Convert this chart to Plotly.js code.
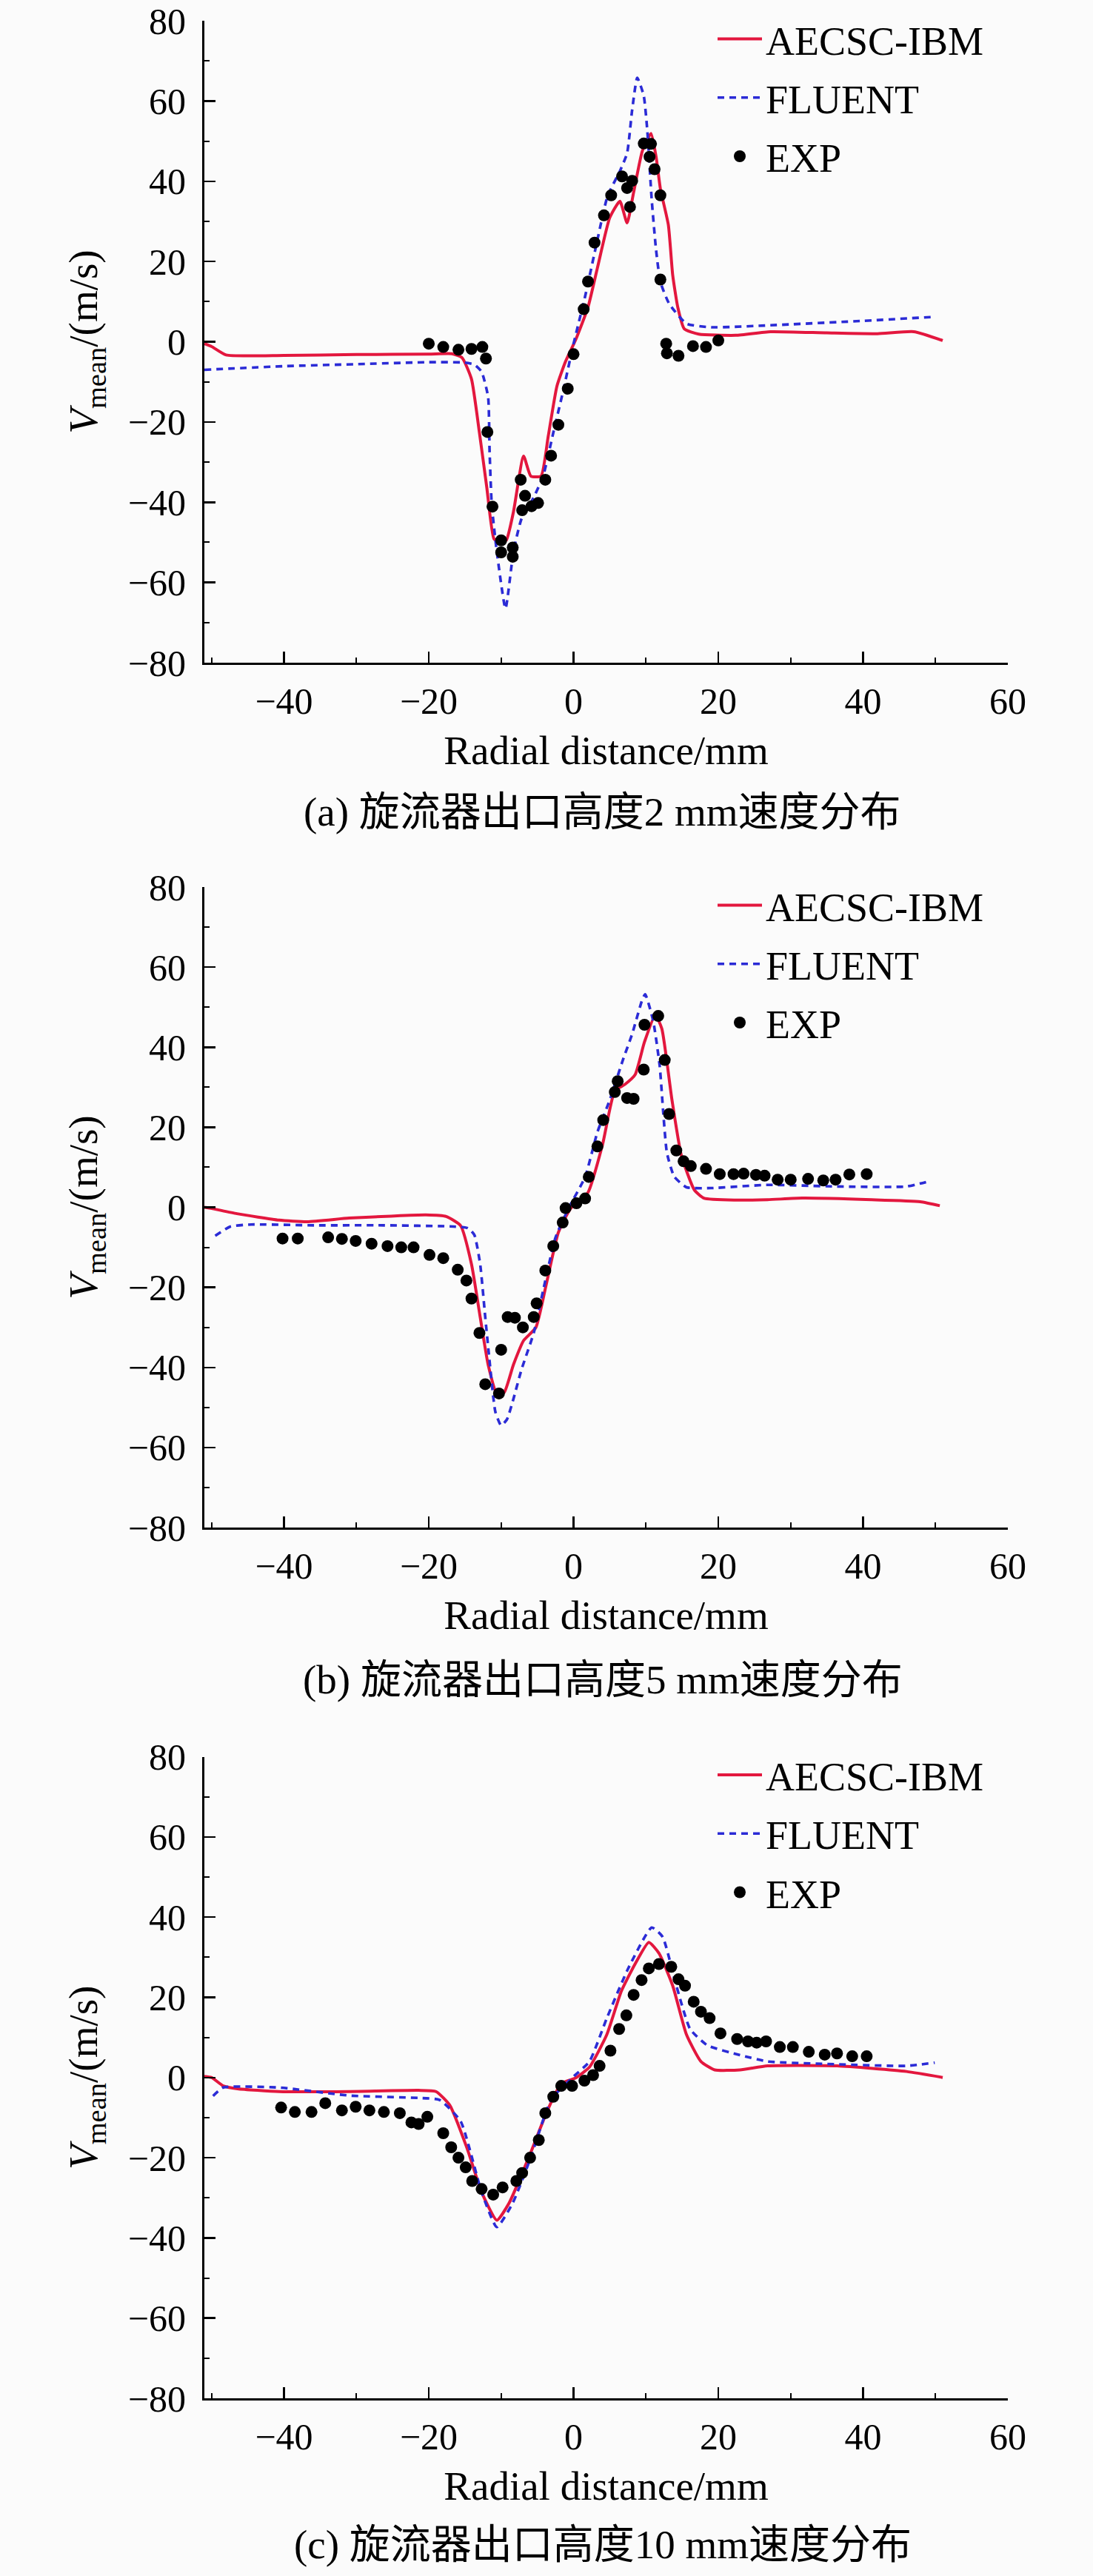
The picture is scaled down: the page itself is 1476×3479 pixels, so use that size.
<!DOCTYPE html>
<html>
<head>
<meta charset="utf-8">
<script src="https://cdn.plot.ly/plotly-3.0.1.min.js"></script>
<style>
html,body{margin:0;padding:0;background:#fbfbfb;}
#chart{width:1476px;height:3479px;}
</style>
</head>
<body>
<div id="chart"></div>
<script>
// ---------- Panel (a): 2 mm ----------
const aIbmX = [-51, -50, -48, -40, -30, -20, -16.8, -15.4, -14.1, -13.0, -12.0, -11.0, -10.2, -9.3, -8.3, -6.9, -5.9, -4.5, -3.5, -2.3, -1.1, 0.3, 2.0, 3.3, 5.0, 6.4, 7.4, 8.3, 9.5, 10.7, 11.4, 12.0, 13.1, 13.7, 14.4, 15.3, 17.3, 22.4, 27.2, 35, 42, 47, 51];
const aIbmY = [-0.5, -1.2, -3.3, -3.4, -3.2, -3.1, -3.0, -4.0, -9.3, -22.7, -36.1, -49.1, -50.0, -49.5, -42.4, -28.5, -33.5, -33.5, -23.6, -11.1, -4.9, 0.5, 8.6, 18.4, 30.9, 35.0, 29.6, 37.2, 47.5, 51.9, 46.1, 38.1, 29.1, 16.6, 8.6, 3.2, 1.9, 1.6, 2.5, 2.2, 2.0, 2.5, 0.3];
const aFluX = [-51, -40, -30, -20, -15, -13.7, -12.7, -11.8, -11.6, -11.3, -10.6, -9.4, -8.3, -7.2, -5.5, -4.2, -2.8, -1.4, -0.1, 1.6, 3.0, 4.7, 6.4, 7.4, 8.1, 8.8, 9.7, 10.2, 10.8, 11.4, 12.0, 13.2, 15.6, 19.0, 27.2, 40, 50];
const aFluY = [-7.0, -6.1, -5.6, -5.1, -5.2, -5.7, -7.5, -13.8, -27.2, -40.6, -52.3, -66.5, -52.3, -44.2, -38.8, -33.5, -22.7, -12.0, -1.3, 11.3, 22.9, 36.3, 42.5, 47.0, 57.8, 65.8, 61.3, 52.4, 35.4, 22.9, 14.9, 9.5, 4.5, 3.6, 4.1, 5.2, 6.2];
const aExpX = [-20.0, -18.0, -15.9, -14.1, -12.6, -12.1, -11.9, -11.2, -10.0, -10.0, -8.4, -8.4, -7.3, -6.7, -7.1, -5.8, -4.9, -3.9, -3.1, -2.1, -0.8, 0.0, 1.4, 2.0, 2.9, 4.2, 5.2, 6.7, 8.1, 7.4, 7.8, 9.7, 10.7, 10.5, 11.2, 12.0, 12.0, 12.8, 12.9, 14.5, 16.5, 18.3, 20.0];
const aExpY = [-0.5, -1.3, -2.0, -1.8, -1.3, -4.2, -22.5, -41.1, -49.5, -52.5, -51.3, -53.6, -34.4, -38.4, -42.0, -41.0, -40.2, -34.4, -28.4, -20.7, -11.7, -3.1, 8.1, 15.0, 24.7, 31.5, 36.5, 41.2, 40.1, 38.3, 33.6, 49.4, 49.3, 46.1, 43.0, 36.5, 15.5, -0.5, -2.9, -3.5, -1.1, -1.3, 0.3];

// ---------- Panel (b): 5 mm ----------
const bIbmX = [-51, -50, -46.5, -40.7, -36.8, -31.0, -25.2, -20.4, -17.6, -15.6, -14.1, -12.9, -11.8, -10.6, -9.6, -8.3, -6.9, -5.2, -3.8, -2.1, -0.4, 2.0, 4.0, 5.7, 7.1, 8.5, 9.8, 11.3, 12.2, 13.6, 14.9, 16.7, 18.0, 22.4, 26.8, 31.6, 41.2, 47.9, 50.6];
const bIbmY = [0, -0.3, -1.6, -3.2, -3.6, -2.7, -2.2, -1.9, -2.3, -4.6, -14.2, -27.4, -39.3, -46.5, -46.3, -39.3, -33.3, -30.0, -19.5, -6.3, -0.3, 3.7, 15.6, 29.1, 30.7, 33.1, 41.3, 48.0, 44.6, 26.8, 12.9, 4.3, 2.3, 1.8, 1.9, 2.3, 1.9, 1.4, 0.4];
const bFluX = [-49.5, -47.4, -44.5, -35.8, -26.2, -16.6, -14.6, -13.7, -12.9, -12.2, -11.7, -10.8, -10.0, -9.2, -8.4, -7.2, -5.5, -4.2, -2.5, -0.7, 1.6, 3.3, 5.0, 6.8, 8.1, 9.5, 9.9, 11.0, 11.9, 12.4, 12.9, 13.9, 15.6, 19.0, 26.8, 36.4, 46.0, 49.1];
const bFluY = [-7.1, -4.8, -4.3, -4.5, -4.5, -4.8, -5.2, -6.9, -14.2, -27.4, -36.6, -51.1, -54.5, -53.0, -48.5, -40.6, -31.4, -20.8, -7.6, -0.3, 7.6, 18.8, 26.8, 36.7, 43.3, 51.9, 53.2, 46.6, 35.4, 23.5, 13.6, 7.7, 5.0, 4.8, 5.6, 5.2, 5.2, 6.5];
const bExpX = [-40.2, -38.1, -33.9, -32.0, -30.1, -27.9, -25.7, -23.8, -22.1, -19.9, -18.0, -16.0, -14.8, -14.1, -13.0, -12.2, -10.3, -10.0, -9.1, -8.1, -7.0, -5.5, -5.1, -3.9, -2.8, -1.5, -1.1, 0.4, 1.6, 2.1, 3.3, 4.1, 5.7, 6.1, 7.4, 8.3, 9.7, 9.8, 11.7, 12.6, 13.2, 14.2, 15.2, 16.2, 18.3, 20.2, 22.1, 23.5, 25.2, 26.4, 28.2, 30.0, 32.4, 34.5, 36.2, 38.1, 40.5];
const bExpY = [-7.8, -7.8, -7.5, -7.9, -8.4, -9.1, -9.7, -10.0, -10.0, -11.9, -12.7, -15.6, -18.3, -22.8, -31.4, -44.2, -46.5, -35.6, -27.4, -27.6, -30.0, -27.4, -24.0, -15.8, -9.7, -3.8, -0.2, 1.0, 2.2, 7.6, 15.2, 21.8, 28.8, 31.5, 27.3, 27.1, 34.4, 45.6, 47.8, 36.8, 23.3, 14.2, 11.5, 10.3, 9.6, 8.3, 8.3, 8.4, 8.1, 7.9, 6.9, 6.9, 7.1, 6.7, 6.9, 8.2, 8.3];

// ---------- Panel (c): 10 mm ----------
const cIbmX = [-51, -50.0, -48.4, -46.4, -40.7, -31.0, -21.4, -19.0, -17.1, -14.7, -12.7, -10.6, -8.9, -6.0, -3.6, -1.7, 0.3, 2.2, 4.6, 6.6, 8.5, 10.4, 11.8, 13.7, 15.6, 17.6, 19.5, 23.0, 26.8, 36.4, 46.0, 51.0];
const cIbmY = [0.3, 0, -2.1, -2.8, -3.5, -3.5, -3.2, -3.5, -6.9, -17.7, -28.6, -35.6, -31.3, -19.1, -8.2, -1.5, -0.1, 2.6, 10.7, 21.5, 28.3, 33.7, 31.0, 22.9, 10.7, 4.0, 1.9, 1.9, 2.9, 2.9, 1.5, 0];
const cFluX = [-49.8, -48.4, -40.7, -31.0, -21.4, -18.5, -15.6, -12.7, -10.6, -8.4, -6.0, -3.1, -0.2, 2.2, 4.6, 7.5, 10.8, 12.3, 14.2, 16.1, 18.5, 23.0, 26.8, 36.4, 46.0, 49.9];
const cFluY = [-4.6, -2.5, -2.5, -4.5, -5.1, -5.6, -10.9, -28.6, -37.3, -31.3, -20.4, -5.5, -0.1, 4.0, 14.8, 27.0, 37.4, 35.1, 22.9, 12.1, 8.0, 5.6, 4.0, 3.3, 2.9, 3.7];
const cExpX = [-40.4, -38.5, -36.2, -34.3, -32.0, -30.1, -28.2, -26.2, -24.0, -22.4, -21.4, -20.2, -18.0, -16.9, -15.9, -14.9, -14.0, -12.7, -11.1, -9.8, -7.9, -7.1, -6.0, -4.8, -3.9, -2.8, -1.7, -0.2, 1.5, 2.7, 3.6, 5.1, 6.3, 7.3, 8.3, 9.4, 10.4, 11.8, 13.5, 14.5, 15.4, 16.6, 17.6, 18.8, 20.3, 22.6, 24.1, 25.3, 26.6, 28.5, 30.3, 32.5, 34.7, 36.4, 38.5, 40.5];
const cExpY = [-7.5, -8.6, -8.6, -6.4, -8.2, -7.3, -8.2, -8.6, -8.9, -11.2, -11.6, -9.8, -13.9, -17.4, -20.0, -22.4, -25.8, -27.8, -29.2, -27.4, -25.8, -23.8, -20.0, -15.6, -8.9, -4.8, -2.1, -2.1, -0.8, 0.6, 2.9, 6.7, 12.1, 15.5, 20.6, 24.3, 27.2, 28.3, 27.6, 24.5, 22.9, 18.9, 16.4, 14.8, 11.0, 9.6, 9.0, 8.7, 9.0, 7.6, 7.6, 6.4, 5.7, 6.0, 5.3, 5.3];

const seriesNames = ['AECSC-IBM', 'FLUENT', 'EXP'];
const captions = ['(a) 旋流器出口高度2 mm速度分布', '(b) 旋流器出口高度5 mm速度分布', '(c) 旋流器出口高度10 mm速度分布'];
const xTitle = 'Radial distance/mm';
const yTitle = '<i>V</i><sub>mean</sub>/(m/s)';

// ---------- Layout geometry (pixels) ----------
const W = 1476, H = 3479;
const plotLeft = 276, plotRight = 1361;
const panelTops = [28, 1198, 2372.5];
const panelBottoms = [895, 2063, 3239];
const captionY = [1096, 2268, 3436];
const captionX = 814;

const RED = '#e3173e';
const BLUE = '#2b2bd6';
const FONT = 'Liberation Serif, Times New Roman, serif';
const CJKFONT = 'Liberation Serif, Noto Sans CJK SC, serif';

const panels = [
  {ix: aIbmX, iy: aIbmY, fx: aFluX, fy: aFluY, ex: aExpX, ey: aExpY},
  {ix: bIbmX, iy: bIbmY, fx: bFluX, fy: bFluY, ex: bExpX, ey: bExpY},
  {ix: cIbmX, iy: cIbmY, fx: cFluX, fy: cFluY, ex: cExpX, ey: cExpY}
];

const traces = [];
const layout = {
  width: W, height: H,
  margin: {l: 0, r: 0, t: 0, b: 0},
  paper_bgcolor: '#fbfbfb',
  plot_bgcolor: '#fbfbfb',
  showlegend: true,
  font: {family: FONT, color: '#000', size: 50},
  annotations: []
};

panels.forEach((p, i) => {
  const n = i === 0 ? '' : String(i + 1);
  const xa = 'x' + n, ya = 'y' + n;
  const lg = 'legend' + n;
  traces.push({
    x: p.ix, y: p.iy, type: 'scatter', mode: 'lines', name: seriesNames[0],
    xaxis: xa, yaxis: ya, legend: lg, legendgroup: 'g' + i + 'a',
    line: {color: RED, width: 4, shape: 'spline', smoothing: 0.5}
  });
  traces.push({
    x: p.fx, y: p.fy, type: 'scatter', mode: 'lines', name: seriesNames[1],
    xaxis: xa, yaxis: ya, legend: lg, legendgroup: 'g' + i + 'b',
    line: {color: BLUE, width: 3.6, dash: '9px,7px', shape: 'spline', smoothing: 0.5}
  });
  traces.push({
    x: p.ex, y: p.ey, type: 'scatter', mode: 'markers', name: seriesNames[2],
    xaxis: xa, yaxis: ya, legend: lg, legendgroup: 'g' + i + 'c',
    marker: {color: '#000', size: 16, symbol: 'circle'}
  });

  const yTop = 1 - panelTops[i] / H;
  const yBot = 1 - panelBottoms[i] / H;
  layout['xaxis' + n] = {
    domain: [plotLeft / W, plotRight / W],
    anchor: ya,
    range: [-51, 60],
    tick0: 0, dtick: 20, tickmode: 'linear',
    ticks: 'inside', ticklen: 15, tickwidth: 2.5, tickcolor: '#000',
    minor: {ticks: 'inside', ticklen: 7, tickwidth: 2, dtick: 10, tick0: 0, tickcolor: '#000'},
    showline: true, linewidth: 3, linecolor: '#000', mirror: false,
    showgrid: false, zeroline: false,
    tickfont: {family: FONT, size: 50, color: '#000'},
    ticklabelstandoff: 6,
    title: {text: xTitle, font: {family: FONT, size: 55, color: '#000'}, standoff: 20},
    automargin: false
  };
  layout['yaxis' + n] = {
    domain: [yBot, yTop],
    anchor: xa,
    range: [-80, 80],
    tick0: 0, dtick: 20, tickmode: 'linear',
    ticks: 'inside', ticklen: 15, tickwidth: 2.5, tickcolor: '#000',
    minor: {ticks: 'inside', ticklen: 7, tickwidth: 2, dtick: 10, tick0: 0, tickcolor: '#000'},
    showline: true, linewidth: 3, linecolor: '#000', mirror: false,
    showgrid: false, zeroline: false,
    tickfont: {family: FONT, size: 50, color: '#000'},
    ticklabelstandoff: 12,
    title: {text: yTitle, font: {family: FONT, size: 55, color: '#000'}, standoff: 24},
    automargin: false
  };
  layout[lg] = {
    x: 964 / W, xanchor: 'left',
    y: 1 - (panelTops[i] - 17) / H, yanchor: 'top',
    bgcolor: 'rgba(0,0,0,0)', borderwidth: 0,
    font: {family: FONT, size: 54, color: '#000'},
    traceorder: 'grouped', tracegroupgap: 6,
    itemwidth: 60
  };
  layout.annotations.push({
    xref: 'paper', yref: 'paper',
    x: captionX / W, y: 1 - captionY[i] / H,
    xanchor: 'center', yanchor: 'middle',
    text: captions[i], showarrow: false,
    font: {family: CJKFONT, size: 55, color: '#000'}
  });
});

Plotly.newPlot('chart', traces, layout, {displayModeBar: false, staticPlot: true});
</script>
</body>
</html>
